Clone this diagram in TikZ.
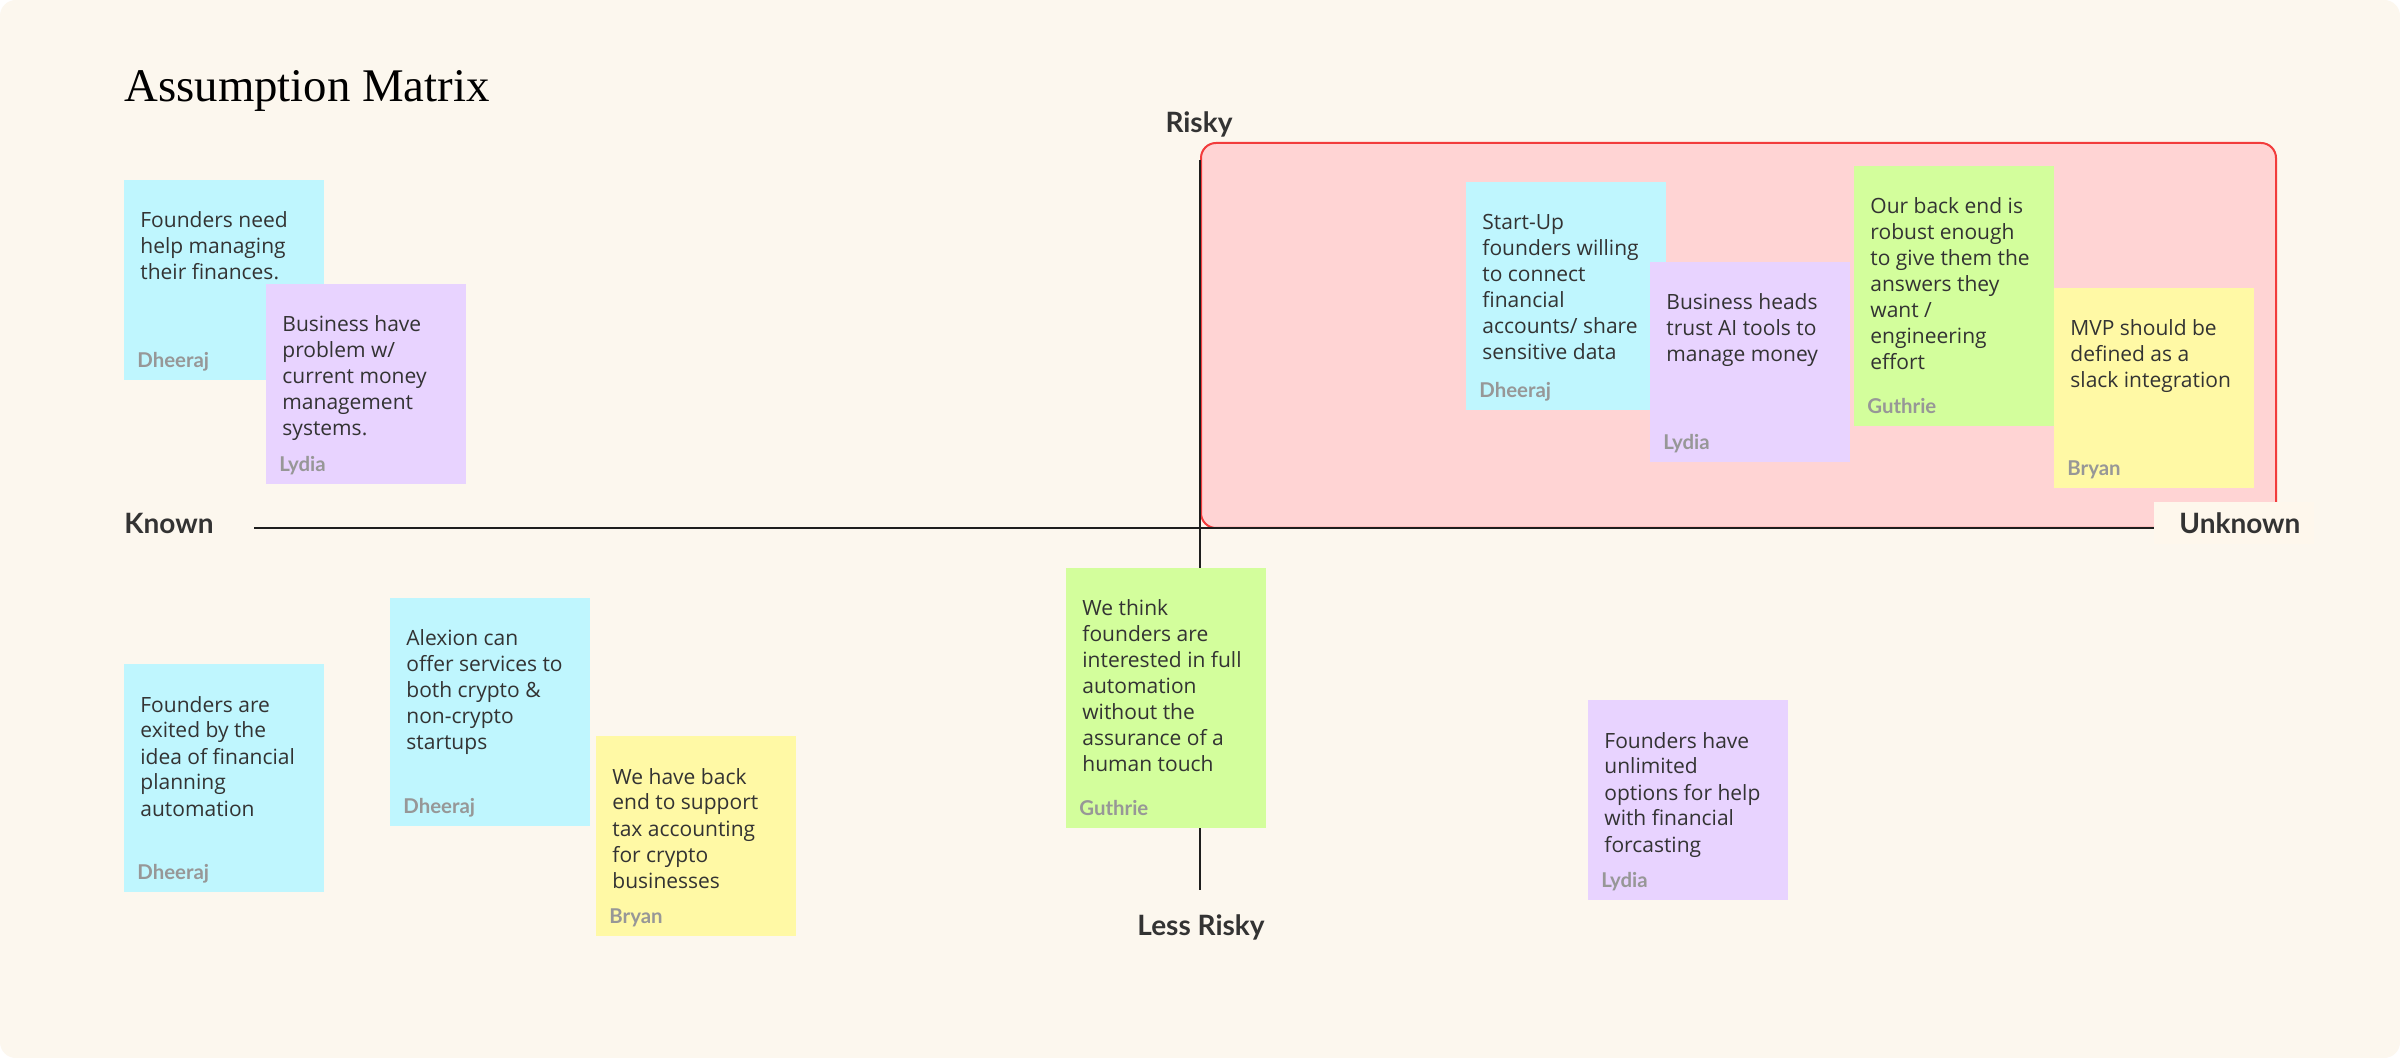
\documentclass[tikz,border=0pt]{standalone}
\usepackage{fontspec}
\setmainfont{Open Sans}
\newfontfamily\stickyfont{Open Sans}
\newfontfamily\labelfont{Lato}
\newfontfamily\titlefont{Liberation Serif}
\definecolor{bgcream}{HTML}{FCF7EE}
\definecolor{unkbox}{HTML}{FEF7EC}
\definecolor{riskfill}{HTML}{FFD4D4}
\definecolor{riskline}{HTML}{F23C3C}
\definecolor{scyan}{HTML}{BFF6FE}
\definecolor{spurple}{HTML}{E8D3FF}
\definecolor{sgreen}{HTML}{D3FE9C}
\definecolor{syellow}{HTML}{FFF9A5}
\definecolor{txt}{HTML}{333333}
\definecolor{authc}{HTML}{979797}
\definecolor{axisc}{HTML}{1E1E1E}
\tikzset{
  stickybox/.style={rectangle, inner sep=0pt, minimum width=100pt, draw=none},
  stickytext/.style={inner sep=0pt, text=txt, font=\stickyfont\fontsize{10.5}{13}\selectfont},
  authortext/.style={inner sep=0pt, text=authc, font=\labelfont\bfseries\fontsize{10.2}{12}\selectfont},
  axislabel/.style={inner sep=0pt, text=txt, font=\labelfont\bfseries\fontsize{14}{16}\selectfont},
  axisline/.style={draw=axisc, line width=1pt},
}
\newcommand\mysticky[7]{%
  \node[stickybox, fill=#5, minimum height=#4, anchor=north west] (#1) at (#2,#3) {};
  \node[stickytext, anchor=base west] (#1-t) at ([shift={(16,48)}]#1.north west) {\begin{tabular}[t]{@{}l@{}}#6\end{tabular}};
  \node[authortext, anchor=base west] (#1-a) at ([shift={(13,-13)}]#1.south west) {#7};
}
\begin{document}
\begin{tikzpicture}[x=0.5pt, y=-0.5pt]
\useasboundingbox (0,0) rectangle (2400,1058);
\fill[white] (0,0) rectangle (2400,1058);
\fill[bgcream, rounded corners=8pt] (0,0) rectangle (2400,1058);

% title
\node[inner sep=0pt, anchor=base west, font=\titlefont\fontsize{23.4}{26}\selectfont, text=black] (title) at (124,102) {Assumption Matrix};

% risky region
\node[rectangle, draw=riskline, fill=riskfill, line width=1pt, rounded corners=7.5pt, inner sep=0pt, minimum width=537.5pt, minimum height=192.5pt, anchor=north west] (risk) at (1200,142) {};

% axes
\coordinate (hL) at (254,528);
\coordinate (hR) at (2160,528);
\coordinate (vT) at (1200,160);
\coordinate (vB) at (1200,890);
\draw[axisline] (hL) -- (hR);
\draw[axisline] (vT) -- (vB);

% unknown label box
\node[rectangle, fill=unkbox, inner sep=0pt, minimum width=80pt, minimum height=21pt, anchor=north west] (unkbg) at (2154,502) {};
\node[axislabel, anchor=west] (unknown) at (2179,523) {Unknown};
\node[axislabel, anchor=west] (known) at (124,523) {Known};
\node[axislabel] (risky) at (1199,124) {Risky};
\node[axislabel] (lessrisky) at (1201,927) {Less Risky};

% stickies
\mysticky{s1}{124}{180}{100pt}{scyan}{Founders need\\help managing\\their finances.}{Dheeraj}
\mysticky{s2}{266}{284}{100pt}{spurple}{Business have\\problem w/\\current money\\management\\systems.}{Lydia}
\mysticky{s3}{1466}{182}{114pt}{scyan}{Start-Up\\founders willing\\to connect\\financial\\accounts/ share\\sensitive data}{Dheeraj}
\mysticky{s4}{1650}{262}{100pt}{spurple}{Business heads\\trust AI tools to\\manage money}{Lydia}
\mysticky{s5}{1854}{166}{130pt}{sgreen}{Our back end is\\robust enough\\to give them the\\answers they\\want /\\engineering\\effort}{Guthrie}
\mysticky{s6}{2054}{288}{100pt}{syellow}{MVP should be\\defined as a\\slack integration}{Bryan}
\mysticky{s7}{124}{664}{114pt}{scyan}{Founders are\\exited by the\\idea of financial\\planning\\automation}{Dheeraj}
\mysticky{s8}{390}{598}{114pt}{scyan}{Alexion can\\offer services to\\both crypto \&\\non-crypto\\startups}{Dheeraj}
\mysticky{s9}{596}{736}{100pt}{syellow}{We have back\\end to support\\tax accounting\\for crypto\\businesses}{Bryan}
\mysticky{s10}{1066}{568}{130pt}{sgreen}{We think\\founders are\\interested in full\\automation\\without the\\assurance of a\\human touch}{Guthrie}
\mysticky{s11}{1588}{700}{100pt}{spurple}{Founders have\\unlimited\\options for help\\with financial\\forcasting}{Lydia}
\end{tikzpicture}
\end{document}
